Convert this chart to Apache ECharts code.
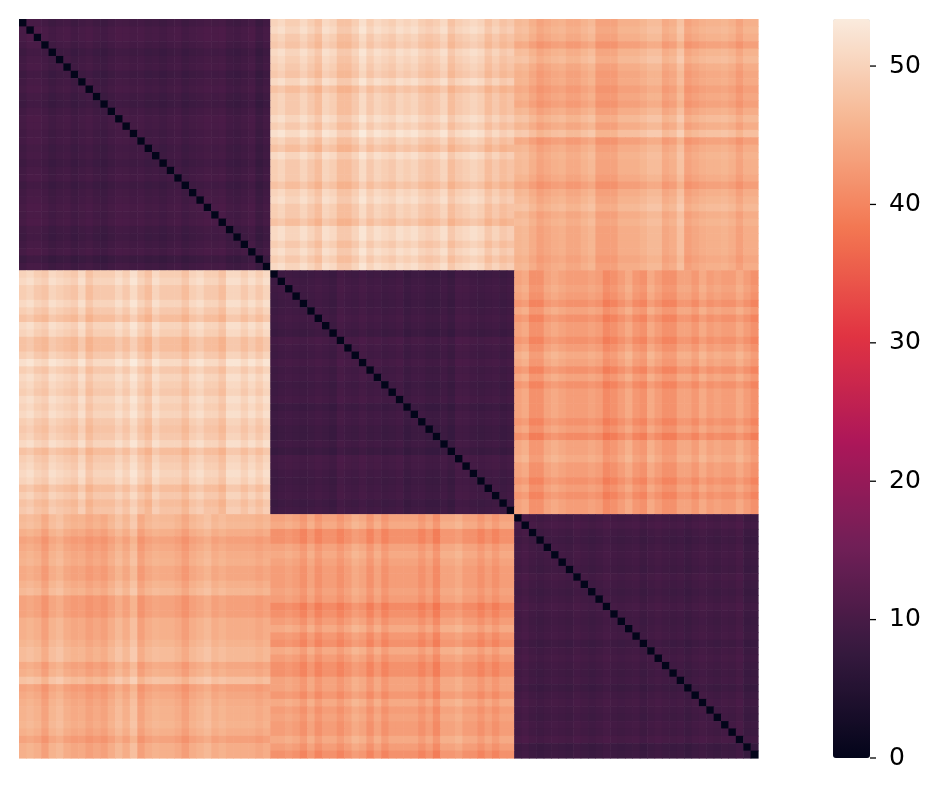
<!DOCTYPE html>
<html>
<head>
<meta charset="utf-8">
<script src="https://cdn.jsdelivr.net/npm/echarts@6/dist/echarts.min.js"></script>
<style>
  html, body { margin: 0; padding: 0; background: #ffffff; }
  #chart { width: 941px; height: 793px; }
</style>
</head>
<body>
<div id="chart"></div>
<script>
// ---- data ----
const blockSizes = [34, 33, 33];
// typical distance between/within groups (row group x column group)
const blockBase = [
  [9.2, 48.6, 44.9],
  [48.6, 9.1, 43.0],
  [44.9, 43.0, 9.2]
];
// per-sample stripe levels (lighter = positive) toward each other group
const off1to2 = [0.6,1.3,0,-0.6,1.3,0.6,0,-0.6,1.3,-1.3,0,0,0,1.3,0,2,0,-1.3,1.3,0,0,0,-1.3,0.6,1.3,0,0,-1.3,1.3,1.3,0,1.3,0,1.3];
const off1to3 = [0.3,0.8,0.2,-1.3,0.6,1.3,0,-0.6,-0.3,-1.3,-0.6,-1.3,0,1.3,0,2,-1.3,0,0.6,0.3,0.3,-0.3,-1.5,0,0.6,1.3,0,0.6,0,0,0,0,-0.6,0];
const off2to1 = [0.6,1.3,0,0,1.3,0,-1.3,1.3,0.6,-1.3,-1.3,0,2,0,1.3,0.6,0,1.3,0.6,1.3,0,-0.6,0,1.3,-1.3,0,0.6,1.3,0.6,-1.3,0,-1.3,-0.6];
const off2to3 = [0,0,0.6,0,-1.3,0.6,-1.3,0,0,-1.3,0,1.3,0.6,-1.3,0.6,-1.3,0,0,0,0,-1.3,0,-2,0.6,0.6,1.3,0,0,-1.3,0,-1.3,0,0];
const off3to1 = [1.0,1.3,0,-1.3,-0.6,0,0.3,-0.6,-0.6,0.3,1.0,-1.3,-1.3,-1.3,0,0,0,0.6,1.3,1.3,-0.6,0,2,-1.3,-0.6,0,0.3,0.3,0.6,0,-1.3,0,0];
const off3to2 = [0.6,1.3,-1.3,-1.3,0.6,1.3,0.6,0,0,0,0.6,0,-2,-1.3,0,1.3,-0.6,-1.3,1.3,0,-1.3,-1.3,0.6,0.6,-0.6,1.3,0,0.6,0,0,1.3,0,-1.3];
// per-sample tone inside its own group
const within1 = [0,0.6,0.6,0.2,-0.4,0,0.2,-0.4,0,0.3,-0.2,-0.5,0,0.4,0.3,0,0.2,-0.2,0,-0.4,0,0.2,-0.4,0,0.2,0.5,0.3,0.5,-0.2,-0.4,0,0.4,-0.7,0];
const within2 = [-0.3,0,0.2,0,-0.2,0,0.3,0,-0.4,0.6,0.2,0,0.5,0,0.2,-0.2,0,0.3,-0.5,0,0,-0.4,-0.4,0,-0.6,0.5,0.4,0,-0.2,0,0.2,-0.3,0];
const within3 = [0.2,0.6,0,-0.3,0,0.2,0,-0.2,0.3,0,-0.3,0,0.4,0,-0.2,0,0.2,-0.4,0,0.3,0,-0.2,0,-0.5,0,0.3,0,-0.2,0.2,0,0.5,-0.6,-0.5];
const colorbarTicks = [0, 10, 20, 30, 40, 50];
const valueMax = 53.4;
const rocketColors = ['#03051A', '#35193E', '#701F57', '#AD1759', '#E13342', '#F37651', '#F6B48F', '#FAEBDD'];

// ---- build the matrix from the arrays ----
const offsets = [
  [within1, off1to2, off1to3],
  [off2to1, within2, off2to3],
  [off3to1, off3to2, within3]
];
const groupOf = [];
const localIdx = [];
blockSizes.forEach((n, b) => { for (let k = 0; k < n; k++) { groupOf.push(b); localIdx.push(k); } });
const N = groupOf.length;
const cats = [];
for (let i = 0; i < N; i++) cats.push(String(i));

const stripeScale = 1.2, withinScale = 1.3;
const cells = [];
for (let i = 0; i < N; i++) {
  for (let j = 0; j < N; j++) {
    const bi = groupOf[i], bj = groupOf[j];
    let v;
    if (i === j) v = 0;
    else {
      const s = bi === bj ? withinScale : stripeScale;
      v = blockBase[bi][bj] + s * (offsets[bi][bj][localIdx[i]] + offsets[bj][bi][localIdx[j]]);
      v = Math.max(0, Math.min(valueMax, v));
    }
    cells.push([j, i, +v.toFixed(2)]);
  }
}

const chart = echarts.init(document.getElementById('chart'), null, { renderer: 'canvas' });
chart.setOption({
  animation: false,
  backgroundColor: '#ffffff',
  grid: [
    { left: 19, top: 19, width: 739, height: 739 },
    { left: 833, top: 19, width: 37, height: 739 }
  ],
  xAxis: [
    { type: 'category', data: cats, gridIndex: 0, show: false },
    { type: 'value', gridIndex: 1, show: false, min: 0, max: 1 }
  ],
  yAxis: [
    { type: 'category', data: cats, gridIndex: 0, show: false, inverse: true },
    {
      type: 'value', gridIndex: 1, position: 'right', min: 0, max: valueMax,
      axisLine: { show: false },
      splitLine: { show: false },
      axisTick: { show: false },
      axisLabel: {
        show: true, margin: 19, color: '#000', fontSize: 25,
        fontFamily: 'DejaVu Sans', customValues: colorbarTicks,
        padding: [5, 0, 0, 0]
      }
    }
  ],
  visualMap: {
    type: 'continuous',
    seriesIndex: 0,
    dimension: 2,
    min: 0, max: valueMax,
    calculable: false,
    hoverLink: false,
    orient: 'vertical',
    left: 833, top: 19,
    itemWidth: 37, itemHeight: 739,
    padding: 0,
    text: null,
    showLabel: false,
    inRange: { color: rocketColors }
  },
  series: [
    {
      type: 'custom',
      xAxisIndex: 0, yAxisIndex: 0,
      data: cells,
      encode: { x: 0, y: 1 },
      progressive: 0,
      silent: true,
      renderItem: function (params, api) {
        const p = api.coord([api.value(0), api.value(1)]);
        const s = api.size([1, 1]);
        return {
          type: 'rect',
          shape: { x: p[0] - s[0] / 2, y: p[1] - s[1] / 2, width: s[0] + 0.6, height: s[1] + 0.6 },
          style: { fill: api.visual('color') }
        };
      }
    },
    {
      type: 'custom',
      xAxisIndex: 1, yAxisIndex: 1,
      data: colorbarTicks.map(v => [1, v]),
      silent: true,
      renderItem: function (params, api) {
        const p = api.coord([api.value(0), api.value(1)]);
        return {
          type: 'line',
          shape: { x1: p[0], y1: p[1], x2: p[0] + 6, y2: p[1] },
          style: { stroke: '#000', lineWidth: 1.3 }
        };
      }
    }
  ]
});
</script>
</body>
</html>
